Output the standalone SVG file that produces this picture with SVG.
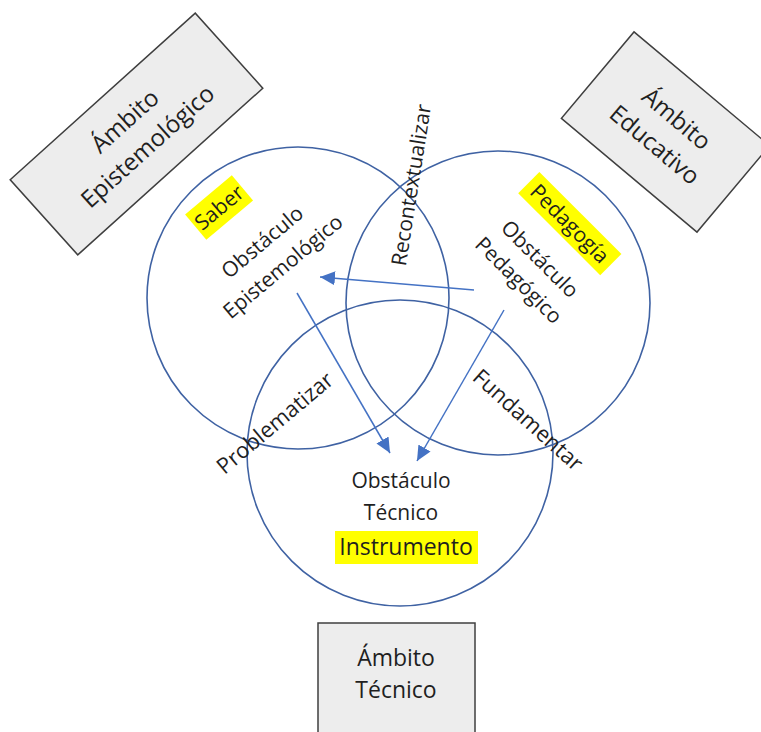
<svg xmlns="http://www.w3.org/2000/svg" width="761" height="732" viewBox="0 0 761 732">
<defs>
<style>
.t{font-family:"Open Sans","Noto Sans",sans-serif;fill:#1F1F1F;text-anchor:middle;}
.c{font-size:21px;}
.b{font-size:24px;}
.circ{fill:none;stroke:#3F62A3;stroke-width:1.6;}
.box{fill:#EDEDED;stroke:#3F3F3F;stroke-width:1.5;}
.hl{fill:#FFFF00;}
.arr{stroke:#4472C4;stroke-width:1.5;fill:none;marker-end:url(#ah);}
</style>
<marker id="ah" markerUnits="userSpaceOnUse" markerWidth="16" markerHeight="14" refX="15" refY="7" orient="auto"><path d="M0,0 L15,7 L0,14 Z" fill="#4472C4"/></marker>
</defs>
<rect width="761" height="732" fill="#FFFFFF"/>

<g id="ambito-epistemologico" transform="translate(136.5,134) rotate(-42)">
<rect class="box" x="-124.5" y="-50.5" width="249" height="101"/>
<text class="t b" x="0" y="-9">Ámbito</text>
<text class="t b" x="0" y="25">Epistemológico</text>
</g>

<g id="ambito-educativo" transform="translate(665.5,132) rotate(40)">
<rect class="box" x="-88.5" y="-56.5" width="177" height="113"/>
<text class="t b" x="0" y="-9">Ámbito</text>
<text class="t b" x="0" y="25">Educativo</text>
</g>

<g id="ambito-tecnico">
<rect class="box" x="318" y="623" width="157" height="120"/>
<text class="t" style="font-size:23px" x="396" y="666">Ámbito</text>
<text class="t" style="font-size:23px" x="396" y="698">Técnico</text>
</g>

<g id="saber">
<circle class="circ" cx="298" cy="298" r="151"/>
<g transform="translate(272.5,254) rotate(-40)">
<rect class="hl" x="-41.5" y="-86.5" width="61" height="33"/>
<text class="t c" x="-11" y="-62.5">Saber</text>
<text class="t c" x="0" y="-8.5">Obstáculo</text>
<text class="t c" x="0" y="23.5">Epistemológico</text>
</g>
</g>

<g id="pedagogia">
<circle class="circ" cx="498" cy="303" r="152"/>
<g transform="translate(529.5,269.5) rotate(45)">
<rect class="hl" x="-62" y="-76" width="116" height="30"/>
<text class="t c" x="-4" y="-53.5">Pedagogía</text>
<text class="t c" x="0" y="-7.5">Obstáculo</text>
<text class="t c" x="0" y="22.5">Pedagógico</text>
</g>
</g>

<g id="instrumento">
<circle class="circ" cx="400" cy="453" r="153"/>
<text class="t c" x="401" y="488">Obstáculo</text>
<text class="t c" x="401" y="520">Técnico</text>
<rect class="hl" x="335" y="531" width="143" height="33"/>
<text class="t" style="font-size:23px" x="406" y="555">Instrumento</text>
</g>

<g id="connectors">
<line class="arr" x1="474" y1="290" x2="320" y2="277"/>
<line class="arr" x1="297" y1="293" x2="390" y2="453"/>
<line class="arr" x1="504" y1="310" x2="417" y2="461"/>
</g>

<g id="labels">
<text class="t c" transform="translate(411,185) rotate(-81)" x="0" y="7.5">Recontextualizar</text>
<text class="t" style="font-size:22px" transform="translate(275,423) rotate(-40)" x="0" y="7.5">Problematizar</text>
<text class="t" style="font-size:22px" transform="translate(528,420) rotate(42)" x="0" y="7.5">Fundamentar</text>
</g>
</svg>
